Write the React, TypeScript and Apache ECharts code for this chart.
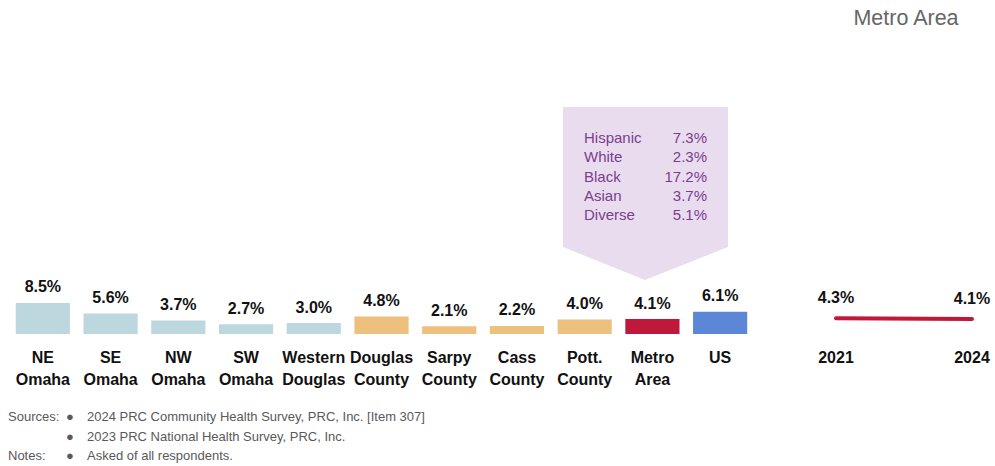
import React, { useEffect, useRef } from "react";
import * as echarts from "echarts";

const categories = [
  "NE\nOmaha", "SE\nOmaha", "NW\nOmaha", "SW\nOmaha", "Western\nDouglas",
  "Douglas\nCounty", "Sarpy\nCounty", "Cass\nCounty", "Pott.\nCounty", "Metro\nArea", "US",
];
const values = [8.5, 5.6, 3.7, 2.7, 3.0, 4.8, 2.1, 2.2, 4.0, 4.1, 6.1];
const barColors = [
  "#BDD7DE", "#BDD7DE", "#BDD7DE", "#BDD7DE", "#BDD7DE",
  "#EDC07E", "#EDC07E", "#EDC07E", "#EDC07E", "#C0183A", "#5B87D6",
];
const trendYears = ["2021", "2024"];
const trendValues = [4.3, 4.1];
const calloutLabels = ["Hispanic", "White", "Black", "Asian", "Diverse"];
const calloutValues = ["7.3%", "2.3%", "17.2%", "3.7%", "5.1%"];

const SANS = '"Liberation Sans", Arial, sans-serif';

export default function App() {
  const ref = useRef<HTMLDivElement>(null);
  useEffect(() => {
    if (!ref.current) return;
    const chart = echarts.init(ref.current, null, { renderer: "svg" });
    const calloutTexts: any[] = [];
    calloutLabels.forEach((l, i) => {
      calloutTexts.push({
        type: "text", left: 584, top: 130 + i * 19.3,
        style: { text: l, fill: "#7A3E8E", font: `15px ${SANS}` },
      });
      calloutTexts.push({
        type: "text", x: 707, y: 130 + i * 19.3,
        style: { text: calloutValues[i], fill: "#7A3E8E", font: `15px ${SANS}`, textAlign: "right", textVerticalAlign: "top" },
      });
    });
    const foot = (x: number, y: number, t: string) => ({
      type: "text", x, y,
      style: { text: t, fill: "#595959", font: `13px ${SANS}`, textVerticalAlign: "middle" },
    });
    const axisLabel = {
      interval: 0, margin: 12, color: "#111", fontFamily: SANS, fontWeight: "bold",
      fontSize: 16, lineHeight: 22, verticalAlign: "top",
    };
    const valueLabel = (dist: number) => ({
      show: true, position: "top", distance: dist, formatter: (p: any) => p.value.toFixed(1) + "%",
      color: "#111", fontFamily: SANS, fontWeight: "bold", fontSize: 16,
    });
    chart.setOption({
      animation: false,
      grid: [
        { left: 9, right: 241, top: 261, bottom: 132 },
        { left: 836, right: 23, top: 261, bottom: 132 },
      ],
      xAxis: [
        {
          type: "category", gridIndex: 0, data: categories,
          axisLine: { show: false }, axisTick: { show: false }, axisLabel,
        },
        {
          type: "category", gridIndex: 1, data: trendYears, boundaryGap: false,
          axisLine: { show: false }, axisTick: { show: false }, axisLabel,
        },
      ],
      yAxis: [
        { type: "value", gridIndex: 0, min: 0, max: 20, show: false },
        { type: "value", gridIndex: 1, min: 0, max: 20, show: false },
      ],
      series: [
        {
          type: "bar", xAxisIndex: 0, yAxisIndex: 0, barCategoryGap: "20%",
          data: values.map((v, i) => ({ value: v, itemStyle: { color: barColors[i] } })),
          label: valueLabel(8),
        },
        {
          type: "line", xAxisIndex: 1, yAxisIndex: 1, data: trendValues,
          symbol: "circle", symbolSize: 1, showSymbol: true,
          itemStyle: { color: "rgba(0,0,0,0)" },
          lineStyle: { color: "#C0183A", width: 4, cap: "round" },
          label: valueLabel(12),
        },
      ],
      graphic: [
        {
          type: "text", x: 906, y: 18,
          style: { text: "Metro Area", fill: "#666666", font: `21.5px ${SANS}`, textAlign: "center", textVerticalAlign: "middle" },
        },
        {
          type: "polygon", z: -1,
          shape: { points: [[563, 107], [728, 107], [728, 247], [645, 280], [563, 247]] },
          style: { fill: "#E9DCEE" },
        },
        ...calloutTexts,
        foot(8, 416, "Sources:"),
        foot(66, 416, "●"),
        foot(87, 416, "2024 PRC Community Health Survey, PRC, Inc. [Item 307]"),
        foot(66, 436, "●"),
        foot(87, 436, "2023 PRC National Health Survey, PRC, Inc."),
        foot(8, 455, "Notes:"),
        foot(66, 455, "●"),
        foot(87, 455, "Asked of all respondents."),
      ],
    });
    return () => chart.dispose();
  }, []);
  return (
    <div style={{ position: "fixed", left: 0, top: 0, width: 995, height: 466, background: "#fff" }}>
      <div ref={ref} style={{ width: 995, height: 466 }} />
    </div>
  );
}
